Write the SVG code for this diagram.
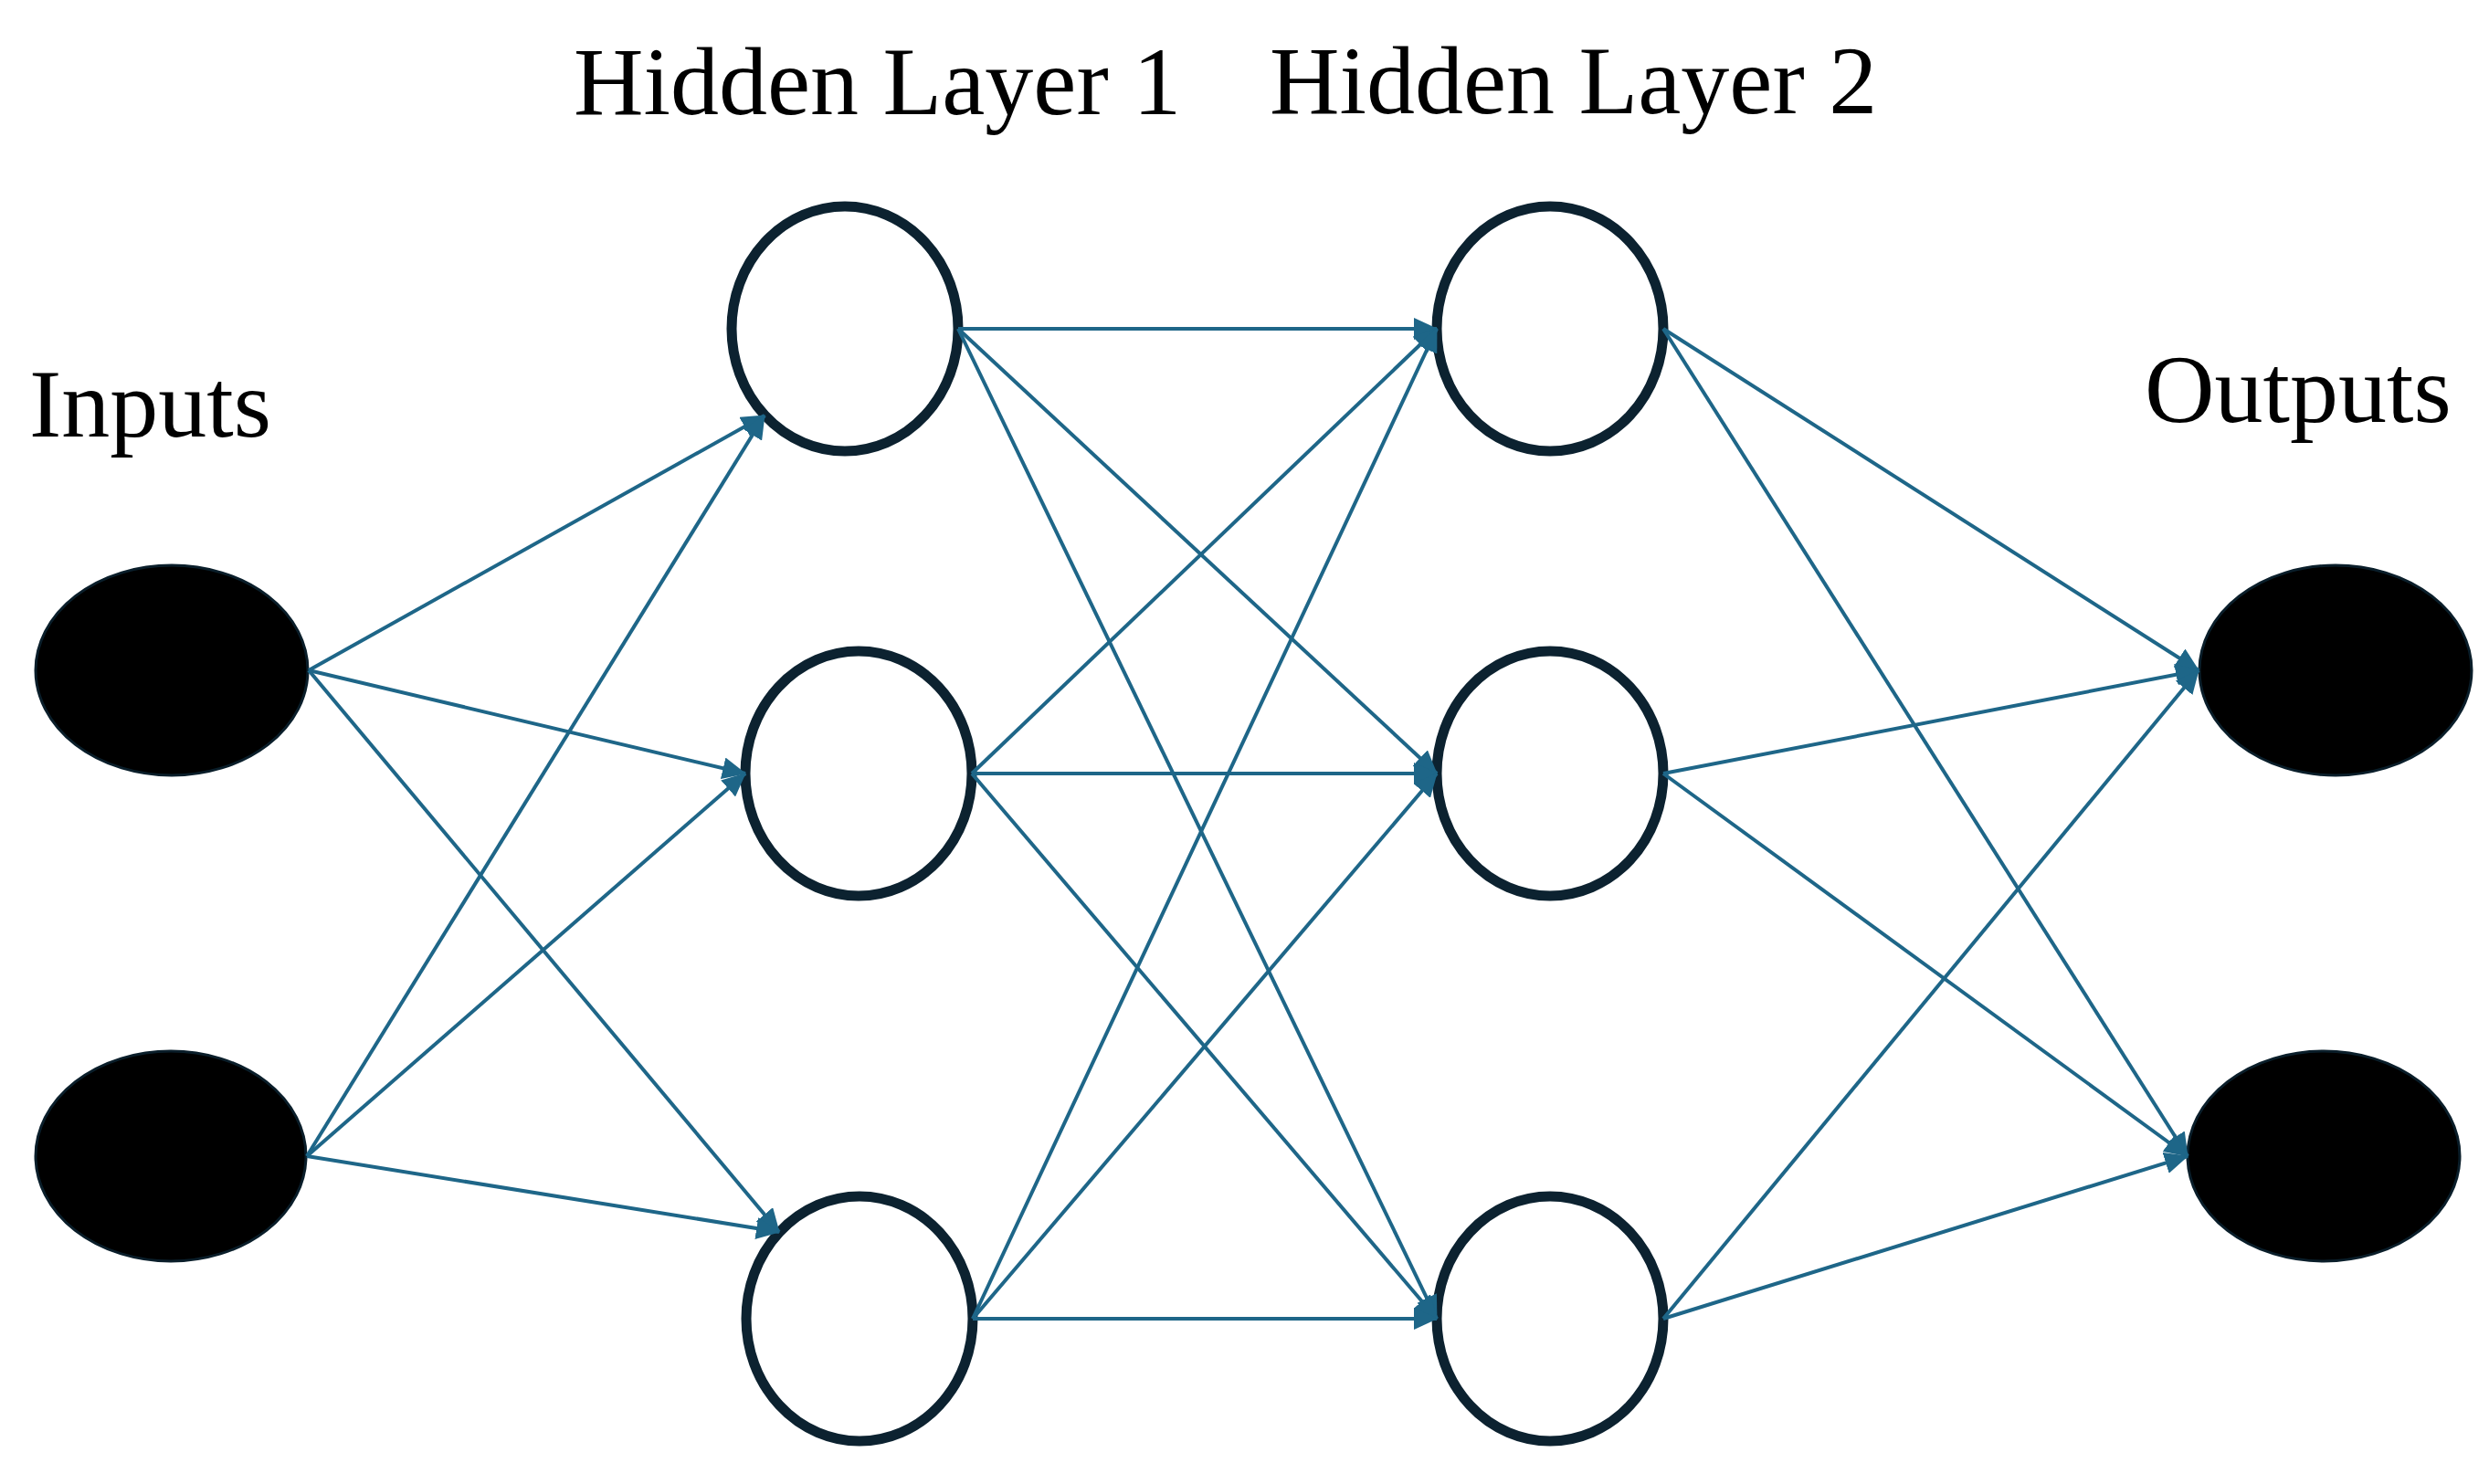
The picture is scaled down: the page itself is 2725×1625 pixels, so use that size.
<svg xmlns="http://www.w3.org/2000/svg" width="2725" height="1625" viewBox="0 0 2725 1625">
<style>
.lbl{font-family:"Liberation Serif","Times New Roman",serif;font-size:106px;fill:#000}
.io{fill:#000;stroke:#0a1e2a;stroke-width:3}
.hid{fill:#fff;stroke:#0c2230;stroke-width:11}
.c{stroke:#1e6688;stroke-width:4;fill:none;marker-end:url(#ah)}
</style>
<defs>
<marker id="ah" markerUnits="userSpaceOnUse" markerWidth="28" markerHeight="24" refX="25" refY="12" orient="auto">
<path d="M0,0 L26,12 L0,24 z" fill="#1e6688"/>
</marker>
</defs>
<rect width="2725" height="1625" fill="#fff"/>
<g id="labels">
<text class="lbl" x="628" y="125">Hidden Layer 1</text>
<text class="lbl" x="1390" y="124">Hidden Layer 2</text>
<text class="lbl" x="32" y="478">Inputs</text>
<text class="lbl" x="2348" y="462">Outputs</text>
</g>
<g id="input1"><ellipse class="io" cx="188" cy="734" rx="149" ry="115"/></g>
<g id="input2"><ellipse class="io" cx="187" cy="1266" rx="148" ry="115"/></g>
<g id="h1a"><ellipse class="hid" cx="925" cy="360" rx="124" ry="134"/></g>
<g id="h1b"><ellipse class="hid" cx="940" cy="847" rx="124" ry="134"/></g>
<g id="h1c"><ellipse class="hid" cx="941" cy="1444" rx="124" ry="134"/></g>
<g id="h2a"><ellipse class="hid" cx="1697" cy="360" rx="124" ry="134"/></g>
<g id="h2b"><ellipse class="hid" cx="1697" cy="847" rx="124" ry="134"/></g>
<g id="h2c"><ellipse class="hid" cx="1697" cy="1444" rx="124" ry="134"/></g>
<g id="output1"><ellipse class="io" cx="2557" cy="734" rx="149" ry="115"/></g>
<g id="output2"><ellipse class="io" cx="2544" cy="1266" rx="149" ry="115"/></g>
<g id="connectors">
<line class="c" x1="338" y1="734" x2="837" y2="455"/>
<line class="c" x1="338" y1="734" x2="816" y2="847"/>
<line class="c" x1="338" y1="734" x2="853" y2="1349"/>
<line class="c" x1="336" y1="1266" x2="837" y2="455"/>
<line class="c" x1="336" y1="1266" x2="816" y2="847"/>
<line class="c" x1="336" y1="1266" x2="853" y2="1349"/>
<line class="c" x1="1049" y1="360" x2="1573" y2="360"/>
<line class="c" x1="1049" y1="360" x2="1573" y2="847"/>
<line class="c" x1="1049" y1="360" x2="1573" y2="1444"/>
<line class="c" x1="1064" y1="847" x2="1573" y2="360"/>
<line class="c" x1="1064" y1="847" x2="1573" y2="847"/>
<line class="c" x1="1064" y1="847" x2="1573" y2="1444"/>
<line class="c" x1="1065" y1="1444" x2="1573" y2="360"/>
<line class="c" x1="1065" y1="1444" x2="1573" y2="847"/>
<line class="c" x1="1065" y1="1444" x2="1573" y2="1444"/>
<line class="c" x1="1821" y1="360" x2="2407" y2="734"/>
<line class="c" x1="1821" y1="360" x2="2395" y2="1266"/>
<line class="c" x1="1821" y1="847" x2="2407" y2="734"/>
<line class="c" x1="1821" y1="847" x2="2395" y2="1266"/>
<line class="c" x1="1821" y1="1444" x2="2407" y2="734"/>
<line class="c" x1="1821" y1="1444" x2="2395" y2="1266"/>
</g>
</svg>
